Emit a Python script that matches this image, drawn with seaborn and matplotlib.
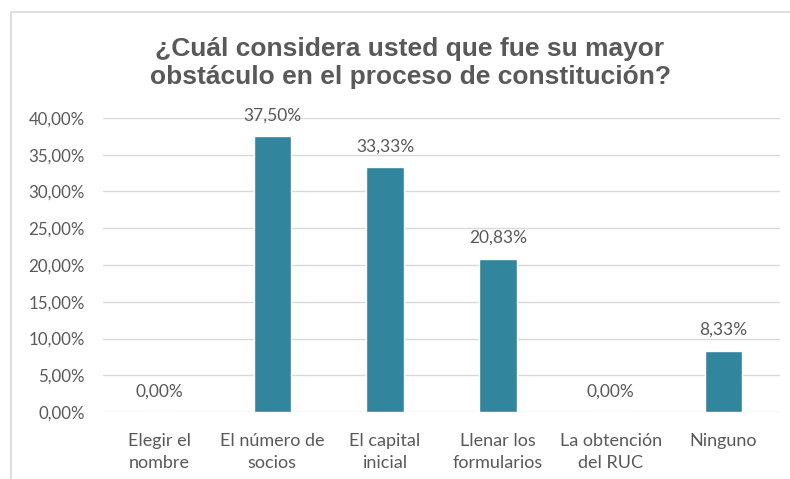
import matplotlib
matplotlib.use("Agg")
import matplotlib.pyplot as plt
import seaborn as sns
import pandas as pd
from matplotlib.patches import Rectangle

categorias = ["Elegir el\nnombre", "El número de\nsocios", "El capital\ninicial",
              "Llenar los\nformularios", "La obtención\ndel RUC", "Ninguno"]
porcentajes = [0.00, 37.50, 33.33, 20.83, 0.00, 8.33]
ticks_y = [0, 5, 10, 15, 20, 25, 30, 35, 40]

titulo = "¿Cuál considera usted que fue su mayor\nobstáculo en el proceso de constitución?"

sns.set_style("white")
plt.rcParams["font.family"] = ["Lato", "DejaVu Sans"]

gris = "#595959"
color_barra = "#31859C"

df = pd.DataFrame({"categoria": categorias, "valor": porcentajes})

fig = plt.figure(figsize=(7.9, 4.79), dpi=100)
ax = fig.add_axes([103 / 790, 1 - 412 / 479, 677 / 790, 294 / 479])

sns.barplot(data=df, x="categoria", y="valor", color=color_barra, width=0.33,
            saturation=1, ax=ax, zorder=3)

ax.set_ylim(0, 40)
ax.set_xlim(-0.5, len(categorias) - 0.5)
ax.set_yticks(ticks_y)
ax.set_yticklabels([f"{t:.2f}".replace(".", ",") + "%" for t in ticks_y])
ax.yaxis.grid(True, color="#D9D9D9", linewidth=1, zorder=0)
ax.set_axisbelow(True)
for s in ax.spines.values():
    s.set_visible(False)
ax.set_xlabel("")
ax.set_ylabel("")
ax.tick_params(axis="both", length=0, colors=gris)
ax.tick_params(axis="y", pad=13, labelsize=12.2)
ax.tick_params(axis="x", pad=15, labelsize=13)
for lbl in ax.get_xticklabels():
    lbl.set_linespacing(1.45)

for i, v in enumerate(porcentajes):
    ax.annotate(f"{v:.2f}".replace(".", ",") + "%", (i, v), xytext=(0, 15),
                textcoords="offset points", ha="center", va="center",
                fontsize=12.5, color=gris)

fig.text(410 / 790, 1 - 63 / 479, titulo, ha="center", va="center",
         fontsize=19, fontweight="bold", color=gris, linespacing=1.25,
         family=["Liberation Sans", "DejaVu Sans"])

fig.patches.append(Rectangle((11 / 790, -0.1), 1.0, 1.1 - 12 / 479,
                             transform=fig.transFigure, fill=False,
                             edgecolor="#D9D9D9", linewidth=1.2))

fig.savefig("out.png", dpi=100)
